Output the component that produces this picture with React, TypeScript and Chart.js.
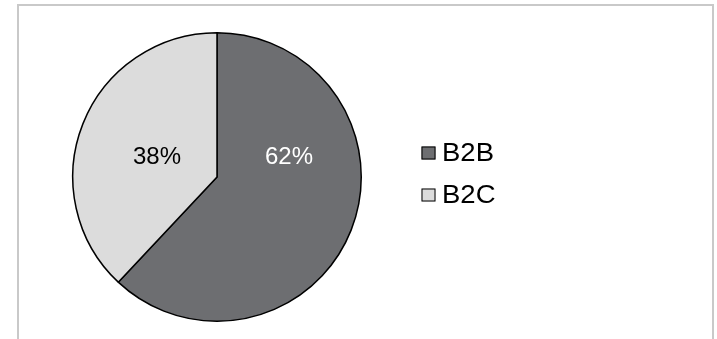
import React, { useEffect, useRef } from "react";
import { Chart, registerables } from "chart.js";

Chart.register(...registerables);

const categories = ["B2B", "B2C"];
const shares = [62, 38];
const sliceColors = ["#6d6e71", "#dcdcdc"];
const labelColors = ["#ffffff", "#000000"];
const labelOffsets = [
  [72, -20],
  [-60, -20],
];

const FONT = "24px 'Liberation Sans', Arial, sans-serif";
const LEGEND_FONT = "25px 'Liberation Sans', Arial, sans-serif";

const labelsAndLegend = {
  id: "labelsAndLegend",
  afterDatasetsDraw(chart: any) {
    const ctx = chart.ctx;
    const meta = chart.getDatasetMeta(0);
    ctx.save();
    ctx.font = FONT;
    ctx.textAlign = "center";
    ctx.textBaseline = "middle";
    meta.data.forEach((arc: any, i: number) => {
      const v = chart.data.datasets[0].data[i];
      ctx.fillStyle = labelColors[i];
      ctx.fillText(v + "%", arc.x + labelOffsets[i][0], arc.y + labelOffsets[i][1]);
    });
    // legend
    const lx = 421.5;
    const ly0 = 153;
    const gap = 42;
    chart.data.labels.forEach((lab: string, i: number) => {
      const y = ly0 + i * gap;
      ctx.fillStyle = sliceColors[i];
      ctx.fillRect(lx, y - 6.5, 14, 13);
      ctx.strokeStyle = "#000";
      ctx.lineWidth = 1;
      ctx.strokeRect(lx + 0.5, y - 6, 13, 12);
      ctx.save();
      ctx.font = LEGEND_FONT;
      ctx.textAlign = "left";
      ctx.fillStyle = "#000";
      ctx.translate(442, y + 1);
      ctx.scale(1.1, 1);
      ctx.fillText(lab, 0, 0);
      ctx.restore();
    });
    ctx.restore();
  },
};

export default function App() {
  const ref = useRef<HTMLCanvasElement>(null);
  useEffect(() => {
    if (!ref.current) return;
    const chart = new Chart(ref.current, {
      type: "pie",
      data: {
        labels: categories,
        datasets: [
          {
            data: shares,
            backgroundColor: sliceColors,
            borderColor: "#000000",
            borderWidth: 1.5,
          },
        ],
      },
      options: {
        animation: false,
        responsive: false,
        maintainAspectRatio: false,
        layout: { padding: { left: 72, top: 32, right: 355, bottom: 17 } },
        plugins: {
          legend: { display: false },
          tooltip: { enabled: false },
        },
      },
      plugins: [labelsAndLegend],
    });
    return () => chart.destroy();
  }, []);
  return (
    <div
      style={{
        position: "fixed",
        left: 0,
        top: 0,
        width: 717,
        height: 339,
        background: "#fff",
        overflow: "hidden",
      }}
    >
      <div
        style={{
          position: "absolute",
          left: 17,
          top: 4,
          width: 697,
          height: 400,
          boxSizing: "border-box",
          border: "2px solid #c9c9c9",
        }}
      />
      <canvas
        ref={ref}
        width={717}
        height={339}
        style={{ position: "absolute", left: 0, top: 0, width: 717, height: 339 }}
      />
    </div>
  );
}
